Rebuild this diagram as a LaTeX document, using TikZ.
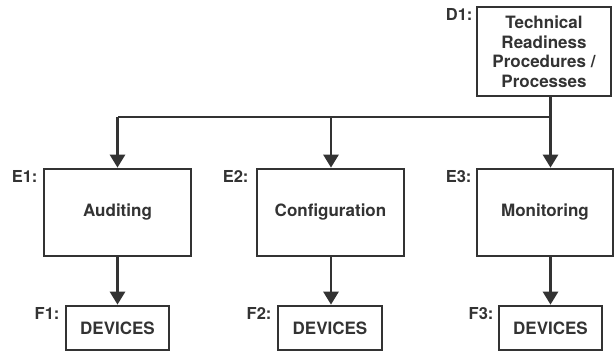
\documentclass[tikz,border=0pt]{standalone}
\usepackage{fontspec}
\setmainfont{TeX Gyre Heros}
\usetikzlibrary{arrows.meta}
\definecolor{ink}{RGB}{51,51,51}
\tikzset{
  box/.style={draw=ink, line width=2.7pt, rectangle, inner sep=0pt, text=ink,
    font=\fontsize{17}{19.5}\selectfont\bfseries, align=center},
  tag/.style={text=ink, inner sep=0pt, anchor=north east,
    font=\fontsize{16.5}{18}\selectfont\bfseries},
  conn/.style={draw=ink, line width=2.7pt},
  arr/.style={conn, -{Triangle[width=15pt,length=13pt]}}
}
\begin{document}
\begin{tikzpicture}[x=1pt,y=-1pt]
\useasboundingbox (0,0) rectangle (614,352);
\node[box, minimum width=134pt, minimum height=89pt] (D1) at (544,51.5) {Technical\\Readiness\\Procedures /\\Processes};
\node[box, minimum width=147pt, minimum height=87pt] (E1) at (117.5,212.5) {Auditing};
\node[box, minimum width=147pt, minimum height=87pt] (E2) at (330.5,212.5) {Configuration};
\node[box, minimum width=136pt, minimum height=87pt] (E3) at (545,212.5) {Monitoring};
\node[box, minimum width=103pt, minimum height=44pt] (F1) at (117.5,328) {DEVICES};
\node[box, minimum width=104pt, minimum height=44pt] (F2) at (330,328) {DEVICES};
\node[box, minimum width=103pt, minimum height=44pt] (F3) at (550.5,328) {DEVICES};
\node[tag] (lD1) at ([xshift=-3pt,yshift=-3pt]D1.north west) {D1:};
\node[tag] (lE1) at ([xshift=-5pt,yshift=-3pt]E1.north west) {E1:};
\node[tag] (lE2) at ([xshift=-7pt,yshift=-3pt]E2.north west) {E2:};
\node[tag] (lE3) at ([xshift=-4pt,yshift=-3pt]E3.north west) {E3:};
\node[tag] (lF1) at ([xshift=-5pt,yshift=-3pt]F1.north west) {F1:};
\node[tag] (lF2) at ([xshift=-5pt,yshift=-3pt]F2.north west) {F2:};
\node[tag] (lF3) at ([xshift=-4pt,yshift=-3pt]F3.north west) {F3:};
\coordinate (j) at (550.5,117);
\coordinate (j1) at (117.5,117);
\coordinate (j2) at (331,117);
\draw[conn] (j |- D1.south) -- (j);
\draw[conn] (j) -- (j1);
\draw[arr] (j1) -- (E1.north);
\draw[arr] (j2) -- (j2 |- E2.north);
\draw[arr] (j) -- (j |- E3.north);
\draw[arr] (E1.south) -- (F1.north);
\draw[arr] (j2 |- E2.south) -- (j2 |- F2.north);
\draw[arr] (j |- E3.south) -- (j |- F3.north);
\end{tikzpicture}
\end{document}
